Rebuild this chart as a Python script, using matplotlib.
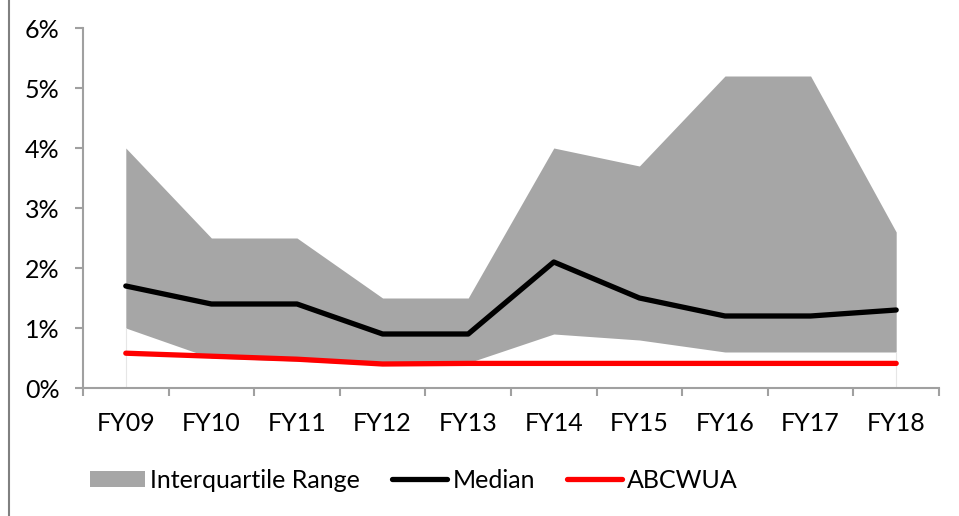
import matplotlib
matplotlib.use("Agg")
import matplotlib.pyplot as plt
from matplotlib.lines import Line2D
from matplotlib.patches import Patch
import numpy as np

categories = ["FY09", "FY10", "FY11", "FY12", "FY13", "FY14", "FY15", "FY16", "FY17", "FY18"]
iqr_upper = [4.0, 2.5, 2.5, 1.5, 1.5, 4.0, 3.7, 5.2, 5.2, 2.6]
iqr_lower = [1.0, 0.5, 0.45, 0.38, 0.42, 0.9, 0.8, 0.6, 0.6, 0.6]
median = [1.7, 1.4, 1.4, 0.9, 0.9, 2.1, 1.5, 1.2, 1.2, 1.3]
abcwua = [0.58, 0.53, 0.48, 0.40, 0.41, 0.41, 0.41, 0.41, 0.41, 0.41]
y_ticks = [0, 1, 2, 3, 4, 5, 6]
y_labels = ["0%", "1%", "2%", "3%", "4%", "5%", "6%"]

plt.rcParams['font.family'] = ['Lato', 'DejaVu Sans']

fig = plt.figure(figsize=(9.59, 5.16), dpi=100)
ax = fig.add_axes([83/959, 1-388/516, (939-83)/959, (388-28)/516])

x = np.arange(len(categories))
gray = "#a6a6a6"
ax.fill_between(x, iqr_lower, iqr_upper, color=gray, linewidth=0, zorder=1)
ax.vlines([x[0], x[-1]], 0, [iqr_lower[0], iqr_lower[-1]], color="#e6e6e6", linewidth=0.8, zorder=1)
ax.plot(x, median, color="black", linewidth=3.8, solid_capstyle="round", zorder=3)
ax.plot(x, abcwua, color="#ff0000", linewidth=3.8, solid_capstyle="round", zorder=3)

ax.set_xlim(-0.5, len(categories) - 0.5)
ax.set_ylim(0, 6)

spine_c = "#a0a0a0"
for s in ["top", "right"]:
    ax.spines[s].set_visible(False)
for s in ["left", "bottom"]:
    ax.spines[s].set_color(spine_c)
    ax.spines[s].set_linewidth(1.5)

ax.set_yticks(y_ticks)
ax.set_yticklabels(y_labels)
ax.tick_params(axis="y", direction="out", length=6, width=1.5, color=spine_c,
               labelsize=18, pad=11, labelcolor="black")

ax.set_xticks(np.arange(-0.5, len(categories) + 0.5, 1.0))
ax.set_xticklabels([])
ax.tick_params(axis="x", which="major", direction="out", length=6, width=1.5, color=spine_c)
ax.set_xticks(x, minor=True)
ax.set_xticklabels(categories, minor=True)
ax.tick_params(axis="x", which="minor", length=0, labelsize=18, pad=17, labelcolor="black")

handles = [Patch(facecolor=gray, edgecolor="none"),
           Line2D([0], [0], color="black", linewidth=3.8, solid_capstyle="round"),
           Line2D([0], [0], color="#ff0000", linewidth=3.8, solid_capstyle="round")]
fig.legend(handles, ["Interquartile Range", "Median", "ABCWUA"],
           loc="center left", bbox_to_anchor=(90/959, 1-480/516), ncol=3, frameon=False,
           fontsize=18, handlelength=2.2, handleheight=0.6, handletextpad=0.2,
           columnspacing=1.3, borderaxespad=0, borderpad=0)

fig.add_artist(Line2D([8.5/959, 8.5/959], [0, 1], transform=fig.transFigure,
                      color="#808080", linewidth=1.5))

fig.savefig("out.png", dpi=100)
